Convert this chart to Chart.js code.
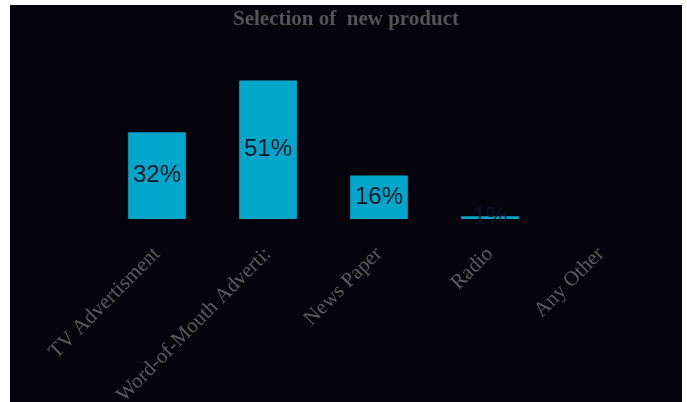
<!DOCTYPE html>
<html>
<head>
<meta charset="utf-8">
<script src="https://cdn.jsdelivr.net/npm/chart.js@4"></script>
<style>
  html, body { margin: 0; padding: 0; background: #ffffff; width: 687px; height: 402px; overflow: hidden; }
  #wrap { position: absolute; left: 10px; top: 5px; width: 672px; height: 397px; background: #05040d; }
</style>
</head>
<body>
<div id="wrap"><canvas id="chart"></canvas></div>
<script>
// Channels through which respondents chose a new product (percent)
const categories = ['TV Advertisment', 'Word-of-Mouth Adverti:', 'News Paper', 'Radio', 'Any Other'];
const shares = [32, 51, 16, 1, 0];
const chartTitle = 'Selection of  new product';

// Writes each non-zero bar's percentage centred inside the bar
const barValueLabels = {
  id: 'barValueLabels',
  afterDatasetsDraw(chart) {
    const ctx = chart.ctx;
    const meta = chart.getDatasetMeta(0);
    ctx.save();
    ctx.font = '24px "Liberation Sans", Arial, sans-serif';
    ctx.fillStyle = '#0b1424';
    ctx.textAlign = 'center';
    ctx.textBaseline = 'middle';
    meta.data.forEach((bar, i) => {
      const v = chart.data.datasets[0].data[i];
      if (!v) return;
      const mid = (bar.y + bar.base) / 2;
      ctx.fillText(v + '%', bar.x, mid);
    });
    ctx.restore();
  }
};

new Chart(document.getElementById('chart'), {
  type: 'bar',
  data: {
    labels: categories,
    datasets: [{
      data: shares,
      backgroundColor: '#00a6c9',
      borderWidth: 0,
      categoryPercentage: 1,
      barPercentage: 0.52
    }]
  },
  options: {
    responsive: true,
    maintainAspectRatio: false,
    animation: false,
    events: [],
    layout: { padding: 0 },
    plugins: {
      legend: { display: false },
      tooltip: { enabled: false },
      title: {
        display: true,
        text: chartTitle,
        color: '#545454',
        font: { family: '"Liberation Serif", "Times New Roman", serif', size: 21, weight: 'bold' },
        padding: { top: 2, bottom: 24 }
      }
    },
    scales: {
      x: {
        grid: { display: false },
        border: { display: false },
        ticks: {
          color: '#5c5c5c',
          font: { family: '"Liberation Serif", "Times New Roman", serif', size: 21 },
          minRotation: 45,
          maxRotation: 45,
          autoSkip: false,
          padding: 15
        },
        afterFit(scale) {
          scale.height = 183;
          scale.paddingLeft = 91.5;
          scale.paddingRight = 25.5;
        }
      },
      y: {
        display: false,
        min: 0,
        max: 60,
        afterFit(scale) { scale.width = 0; }
      }
    }
  },
  plugins: [barValueLabels]
});
</script>
</body>
</html>
